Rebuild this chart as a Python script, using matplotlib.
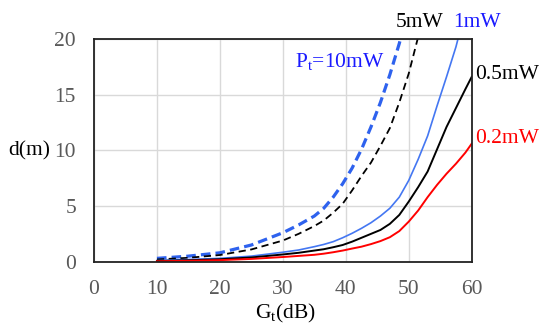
import matplotlib
matplotlib.use("Agg")
import matplotlib.pyplot as plt

plt.rcParams['font.family'] = ['Liberation Serif', 'DejaVu Serif']
plt.rcParams['mathtext.fontset'] = 'custom'
plt.rcParams['mathtext.rm'] = 'Liberation Serif'

# Gain Gt (dB)
g = [10, 15, 20, 25, 30, 32.5, 35, 36.5, 38, 39.5, 41, 42.5, 44, 45.5, 47, 48.5,
     50, 51.5, 53, 54.5, 56, 57.5, 59, 60]

# distance d (m) for each transmit power
d_10mw = [0.3, 0.5, 0.8, 1.5, 2.6, 3.3, 4.1, 4.8, 5.8, 7.0, 8.4, 10.1, 12.1, 14.3, 16.8, 19.6,
          22.8, 26, 30, 34, 38, 43, 48, 52]
d_5mw = [0.2, 0.35, 0.6, 1.1, 1.9, 2.5, 3.2, 3.7, 4.4, 5.2, 6.4, 7.7, 8.9, 10.4, 12.0, 14.3,
         16.9, 20.2, 23.5, 27, 31, 35, 39, 42]
d_1mw = [0.1, 0.2, 0.3, 0.5, 0.85, 1.05, 1.35, 1.55, 1.8, 2.15, 2.55, 3.0, 3.5, 4.1, 4.8, 5.8,
         7.3, 9.2, 11.3, 14.0, 16.6, 19.3, 22.6, 24.5]
d_05mw = [0.07, 0.13, 0.22, 0.38, 0.65, 0.8, 1.0, 1.12, 1.3, 1.5, 1.8, 2.15, 2.5, 2.85, 3.4, 4.2,
          5.4, 6.7, 8.1, 10.1, 12.1, 13.8, 15.5, 16.6]
d_02mw = [0.04, 0.08, 0.14, 0.25, 0.42, 0.52, 0.62, 0.72, 0.85, 1.0, 1.18, 1.35, 1.58, 1.85, 2.2, 2.75,
          3.6, 4.6, 5.8, 6.9, 7.9, 8.8, 9.8, 10.6]

xticks = [0, 10, 20, 30, 40, 50, 60]
yticks = [0, 5, 10, 15, 20]

fig = plt.figure(figsize=(5.41, 3.26), dpi=100)
ax = fig.add_axes([94/541, 1-261.7/326, (471.7-94)/541, (261.7-39)/326])

ax.plot(g, d_10mw, color='#2e62ee', lw=2.3, ls=(0, (3, 1.6)))
ax.plot(g, d_5mw, color='black', lw=1.3, ls=(0, (4, 2.5)))
ax.plot(g, d_1mw, color='#4477f2', lw=1.2)
ax.plot(g, d_05mw, color='black', lw=1.4)
ax.plot(g, d_02mw, color='#ff0000', lw=1.4)

ax.set_xlim(0, 60)
ax.set_ylim(0, 20)
ax.set_xticks(xticks)
ax.set_yticks(yticks)
ax.tick_params(length=0, pad=13, labelsize=15.5, labelcolor='#595959')
ax.grid(True, color='#d9d9d9', lw=1.0)
ax.set_axisbelow(True)
for s in ax.spines.values():
    s.set_color('#222222')
    s.set_linewidth(1.3)

fs = 15.5
ax.text(48.0, 21.5, '5mW', color='black', fontsize=fs, ha='left', va='center', clip_on=False)
ax.text(57.0, 21.5, '1mW', color='#1a1aff', fontsize=fs, ha='left', va='center', clip_on=False)
ax.text(60.5, 16.8, '0.5mW', color='black', fontsize=fs, ha='left', va='center', clip_on=False)
ax.text(60.5, 11.1, '0.2mW', color='#ff0000', fontsize=fs, ha='left', va='center', clip_on=False)
ax.text(31.9, 17.9, r'P$_\mathrm{t}$=10mW', color='#1a1aff', fontsize=fs, ha='left', va='center', clip_on=False)

fig.text(50/541, 1-151/326, 'd(m)', fontsize=fs, ha='right', va='center', color='black')
fig.text(286/541, 1-313/326, r'G$_\mathrm{t}$(dB)', fontsize=fs, ha='center', va='center', color='black')

fig.savefig('out.png', dpi=100)
